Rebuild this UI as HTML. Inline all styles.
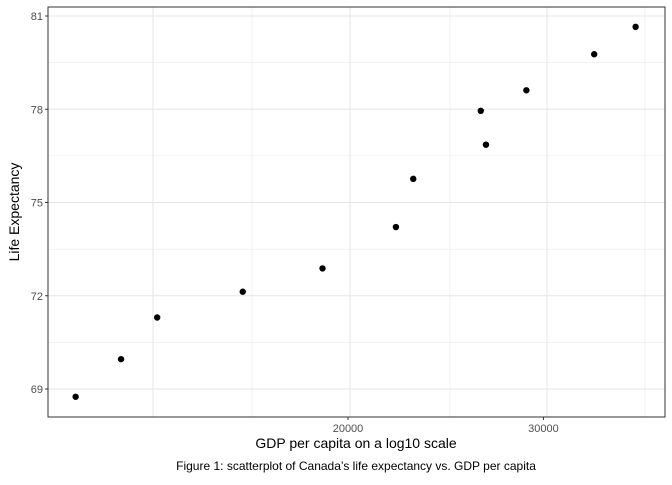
<!DOCTYPE html>
<html><head><meta charset="utf-8"><style>
body{margin:0;background:#fff;font-family:"Liberation Sans",sans-serif}
</style></head><body>
<svg width="672" height="480" font-family="Liberation Sans, sans-serif">
<g id="grid"></g>
<g id="pts"></g>
<rect x="48" y="7" width="617" height="410" fill="none" stroke="#333" stroke-width="1"/>
<g id="axes"></g>
<text x="356" y="448" font-size="14" text-anchor="middle">GDP per capita on a log10 scale</text>
<text transform="translate(19,212) rotate(-90)" font-size="14" text-anchor="middle">Life Expectancy</text>
<text x="356" y="470" font-size="12" text-anchor="middle">Figure 1: scatterplot of Canada’s life expectancy vs. GDP per capita</text>
</svg>
<script>
const gdp=[11367.16,12489.95,13462.49,16076.59,18970.57,22090.88,22898.79,26626.52,26342.88,28954.93,33328.97,36319.24];
const life=[68.75,69.96,71.30,72.13,72.88,74.21,75.76,76.86,77.95,78.61,79.77,80.65];
const xTicks=[20000,30000];
const yTicks=[69,72,75,78,81];
const L=48,R=665,T=7,B=417;
function xs(v){return 348+Math.log10(v/20000)*1110;}
function ys(v){return 389-(v-69)*(389-16)/12;}
const NS="http://www.w3.org/2000/svg";
const grid=document.getElementById('grid'),axes=document.getElementById('axes'),pts=document.getElementById('pts');
function line(p,x1,y1,x2,y2,c,w){const l=document.createElementNS(NS,'line');l.setAttribute('x1',x1);l.setAttribute('y1',y1);l.setAttribute('x2',x2);l.setAttribute('y2',y2);l.setAttribute('stroke',c);l.setAttribute('stroke-width',w);p.appendChild(l);return l;}
[153,252,350,450,547,645].forEach((x,i)=>{const l=line(grid,x,T,x,B,'#e6e6e6',i%2==0?1.1:0.6);

});
yTicks.forEach((v,i)=>{const y=ys(v);const l=line(grid,L,y,R,y,'#e6e6e6',1.1);


if(i<yTicks.length-1){const m=ys(v+1.5);const l2=line(grid,L,m,R,m,'#e6e6e6',0.6);

}
const tk=line(axes,L-3,y,L,y,'#333',1);


const t=document.createElementNS(NS,'text');t.setAttribute('x',L-5);t.setAttribute('y',y+4);t.setAttribute('font-size','11');t.setAttribute('fill','#4d4d4d');t.setAttribute('text-anchor','end');t.textContent=v;


axes.appendChild(t);});
xTicks.forEach(v=>{const x=xs(v);const tk=line(axes,x,B,x,B+3,'#333',1);


const t=document.createElementNS(NS,'text');t.setAttribute('x',x);t.setAttribute('y',B+15);t.setAttribute('font-size','11');t.setAttribute('fill','#4d4d4d');t.setAttribute('text-anchor','middle');t.textContent=v;


axes.appendChild(t);});
gdp.forEach((g,i)=>{const c=document.createElementNS(NS,'circle');c.setAttribute('cx',xs(g));c.setAttribute('cy',ys(life[i]));c.setAttribute('r',3.2);c.setAttribute('fill','#000');


pts.appendChild(c);});
</script>
</body></html>
